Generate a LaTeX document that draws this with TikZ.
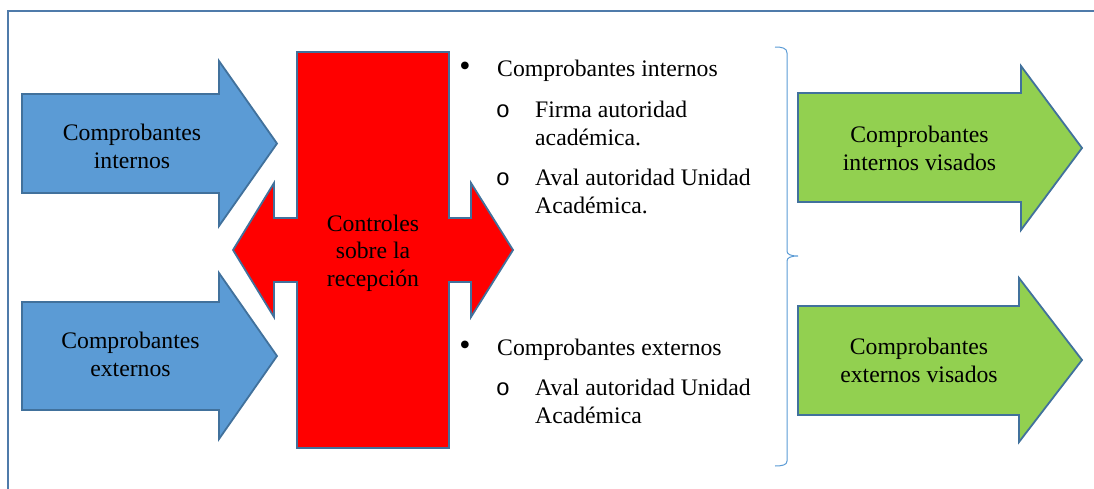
\documentclass[tikz,border=0pt]{standalone}
\usepackage{fontspec}
\setmainfont{Liberation Serif}
\newfontfamily\bulletmono{Liberation Mono}
\definecolor{frameblue}{HTML}{4F7BAA}
\definecolor{edgeblue}{HTML}{41719C}
\definecolor{fillblue}{HTML}{5B9BD5}
\definecolor{fillgreen}{HTML}{92D050}
\definecolor{fillred}{HTML}{FF0000}
\definecolor{bracecol}{HTML}{5B9BD5}
\tikzset{
  shapeedge/.style={draw=edgeblue, line width=1.8pt, line join=miter},
  lbl/.style={font=\fontsize{23.7}{27.3}\selectfont, align=center, anchor=base, inner sep=0pt},
  itemtxt/.style={font=\fontsize{23.7}{28}\selectfont, align=left, anchor=base west, inner sep=0pt},
  bul/.style={font=\fontsize{32}{34}\selectfont, anchor=center, inner sep=0pt},
  subbul/.style={font=\fontsize{23.7}{28}\bulletmono, anchor=base, inner sep=0pt}
}
\begin{document}
\begin{tikzpicture}[x=1pt,y=-1pt]
\useasboundingbox (0,0) rectangle (1094,488);
\clip (0,0) rectangle (1094,488);
% frame
\draw[frameblue, line width=2pt] (8,500) -- (8,11) -- (1110,11);
% blue arrows
\draw[shapeedge, fill=fillblue] (22,94) -- (219,94) -- (219,61) -- (277,143.5) -- (219,226) -- (219,193) -- (22,193) -- cycle;
\draw[shapeedge, fill=fillblue] (22,302) -- (219,302) -- (219,273) -- (277,356) -- (219,439) -- (219,410) -- (22,410) -- cycle;
% red cross arrow
\draw[shapeedge, fill=fillred] (297,52) -- (449,52) -- (449,218) -- (471,218) -- (471,183) -- (513,250) -- (471,317) -- (471,282) -- (449,282) -- (449,448) -- (297,448) -- (297,282) -- (274,282) -- (274,317) -- (233,250) -- (274,183) -- (274,218) -- (297,218) -- cycle;
% green arrows
\draw[shapeedge, fill=fillgreen] (798,93) -- (1021,93) -- (1021,66) -- (1082,148) -- (1021,230) -- (1021,202) -- (798,202) -- cycle;
\draw[shapeedge, fill=fillgreen] (798,306) -- (1019,306) -- (1019,278) -- (1082,360) -- (1019,442) -- (1019,415) -- (798,415) -- cycle;
% brace
\draw[bracecol, line width=1pt] (775,47) .. controls (782,47) and (787,48) .. (787,53) -- (787,251) .. controls (787,254) and (790,256) .. (798,256) .. controls (790,256) and (787,258) .. (787,261) -- (787,461) .. controls (787,465) and (782,466) .. (775,466);
% labels (base anchor = last line baseline)
\node[lbl] (ci) at (132,168) {Comprobantes\\internos};
\node[lbl] (ce) at (130.5,376) {Comprobantes\\externos};
\node[lbl] (ctrl) at (373,286) {Controles\\sobre la\\recepción};
\node[lbl] (civ) at (919.5,170) {Comprobantes\\internos visados};
\node[lbl] (cev) at (919,382) {Comprobantes\\externos visados};
% lists
\node[bul] (b1) at (465,69) {•};
\node[itemtxt] (t1) at (497,76) {Comprobantes internos};
\node[subbul] (s1) at (503,117) {o};
\node[itemtxt] (t2) at (535,145) {Firma autoridad\\académica.};
\node[subbul] (s2) at (503,185) {o};
\node[itemtxt] (t3) at (535,213) {Aval autoridad Unidad\\Académica.};
\node[bul] (b2) at (465,348) {•};
\node[itemtxt] (t4) at (497,355) {Comprobantes externos};
\node[subbul] (s3) at (503,395) {o};
\node[itemtxt] (t5) at (535,423) {Aval autoridad Unidad\\Académica};
\end{tikzpicture}
\end{document}
